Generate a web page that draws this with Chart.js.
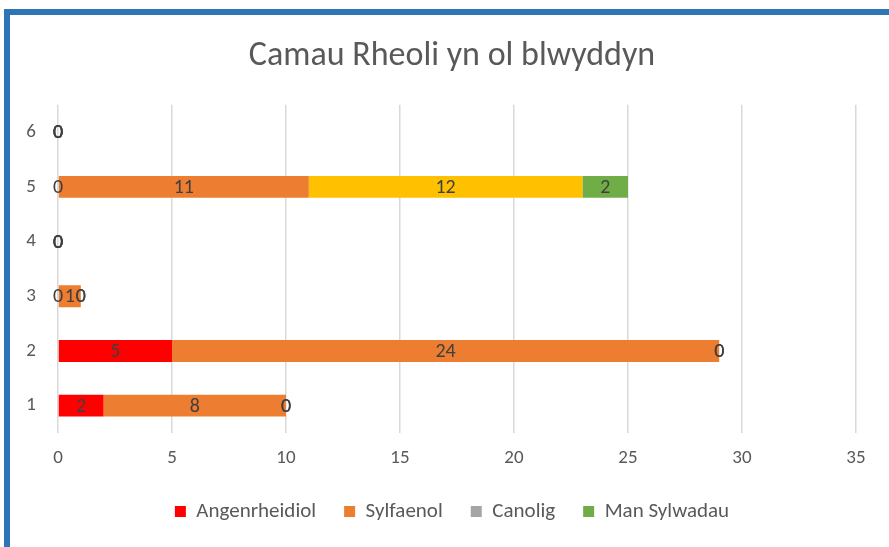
<!DOCTYPE html>
<html>
<head>
<meta charset="utf-8">
<script src="https://cdn.jsdelivr.net/npm/chart.js@4"></script>
<style>
  html, body { margin:0; padding:0; background:#fff; overflow:hidden; }
  #frame { position:absolute; left:4px; top:9px; width:900px; height:535px;
           border-left:6px solid #2E75B6; border-top:6px solid #2E75B6;
           border-bottom:1px solid #c8c8c8; box-sizing:content-box; }
  #c { position:absolute; left:0; top:0; }
</style>
</head>
<body>
<div id="frame"></div>
<canvas id="c" width="889" height="547"></canvas>
<script>
const categories = ['1', '2', '3', '4', '5', '6'];
const angenrheidiol = [2, 5, 0, 0, 0, 0];
const sylfaenol = [8, 24, 1, 0, 11, 0];
const canolig = [0, 0, 0, 0, 12, 0];
const manSylwadau = [0, 0, 0, 0, 2, 0];
const xTicks = [0, 5, 10, 15, 20, 25, 30, 35];

const FONT = 'Carlito, Calibri, Lato, sans-serif';
const GREY_TXT = '#595959';

const canoligColors = canolig.map((v, i) => i === 4 ? '#FFC000' : '#A5A5A5');

const labelPlugin = {
  id: 'barLabels',
  afterDatasetsDraw(chart) {
    const ctx = chart.ctx;
    ctx.save();
    ctx.font = '20px ' + FONT;
    ctx.fillStyle = '#404040';
    ctx.textAlign = 'center';
    ctx.textBaseline = 'middle';
    chart.data.datasets.forEach((ds, di) => {
      const meta = chart.getDatasetMeta(di);
      meta.data.forEach((el, i) => {
        const cx = (el.x + el.base) / 2;
        ctx.fillText(String(ds.data[i]), cx, el.y + 1);
      });
    });
    ctx.restore();
  }
};

new Chart(document.getElementById('c'), {
  type: 'bar',
  data: {
    labels: categories,
    datasets: [
      { label: 'Angenrheidiol', data: angenrheidiol, backgroundColor: '#FF0000' },
      { label: 'Sylfaenol', data: sylfaenol, backgroundColor: '#ED7D31' },
      { label: 'Canolig', data: canolig, backgroundColor: canoligColors },
      { label: 'Man Sylwadau', data: manSylwadau, backgroundColor: '#70AD47' }
    ]
  },
  options: {
    indexAxis: 'y',
    responsive: false,
    animation: false,
    devicePixelRatio: 1,
    layout: { padding: { left: 15, right: 0, top: 0, bottom: 15 } },
    datasets: { bar: { barPercentage: 1, categoryPercentage: 0.4, borderWidth: 0 } },
    scales: {
      x: {
        stacked: true,
        min: 0, max: 35,
        afterBuildTicks(scale) { scale.ticks = xTicks.map(v => ({ value: v })); },
        afterFit(scale) { scale.height = 40; },
        grid: { color: '#d9d9d9', lineWidth: 1.5, drawTicks: false },
        border: { display: false },
        ticks: { color: GREY_TXT, font: { family: FONT, size: 19 }, padding: 14 }
      },
      y: {
        stacked: true,
        reverse: true,
        afterFit(scale) { scale.width = 43; },
        grid: { display: false, drawTicks: false },
        border: { display: false },
        ticks: { color: GREY_TXT, font: { family: FONT, size: 19 }, padding: 22 }
      },
      yRight: {
        type: 'linear',
        position: 'right',
        afterFit(scale) { scale.width = 33; },
        grid: { display: false, drawTicks: false },
        border: { display: false },
        ticks: { display: false }
      }
    },
    plugins: {
      title: {
        display: true,
        text: 'Camau Rheoli yn ol blwyddyn',
        color: GREY_TXT,
        font: { family: FONT, size: 34, weight: 'normal' },
        padding: { top: 36, bottom: 28 }
      },
      legend: {
        position: 'bottom',
        labels: {
          color: GREY_TXT,
          font: { family: FONT, size: 21 },
          boxWidth: 11, boxHeight: 11,
          padding: 28
        }
      },
      tooltip: { enabled: false }
    }
  },
  plugins: [labelPlugin]
});
</script>
</body>
</html>
